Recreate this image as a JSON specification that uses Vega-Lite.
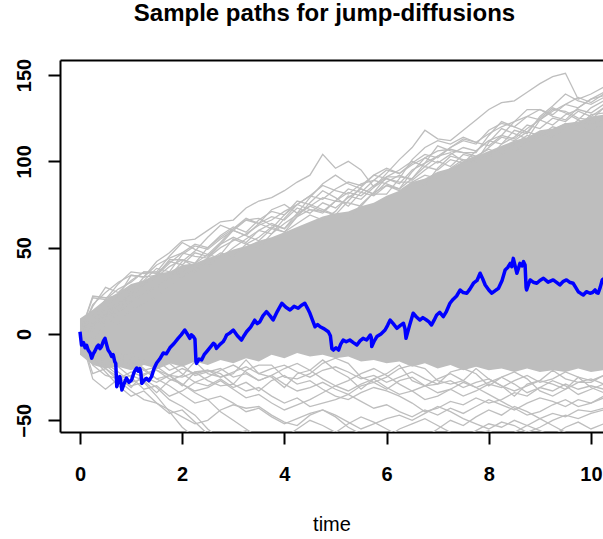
{
 "$schema": "https://vega.github.io/schema/vega-lite/v6.json",
 "width": 543,
 "height": 372,
 "autosize": {"type": "none"},
 "padding": {"left": 60, "top": 60, "right": 0, "bottom": 107},
 "background": "white",
 "config": {
  "view": {"stroke": null},
  "font": "Liberation Sans",
  "axis": {"domainColor": "black", "domainWidth": 2, "tickColor": "black", "tickWidth": 2, "tickSize": 12, "labelColor": "black", "labelFont": "Liberation Sans", "labelFontSize": 20, "labelFontWeight": "bold", "grid": false, "titleColor": "black", "titleFont": "Liberation Sans", "titleFontSize": 20, "titleFontWeight": "normal"}
 },
 "title": {"text": "Sample paths for jump-diffusions", "fontSize": 24, "fontWeight": "bold", "font": "Liberation Sans", "color": "black", "anchor": "middle", "frame": "group", "baseline": "alphabetic", "offset": 13, "dx": -7},
 "datasets": {
  "core": [
   {"t":0,"lo":-12,"hi":9},{"t":0.25,"lo":-18,"hi":14},{"t":0.5,"lo":-20,"hi":20},{"t":0.75,"lo":-19,"hi":24},{"t":1,"lo":-21,"hi":29},{"t":1.25,"lo":-18,"hi":31},{"t":1.5,"lo":-20,"hi":35},{"t":1.75,"lo":-17,"hi":36},{"t":2,"lo":-19,"hi":40},{"t":2.25,"lo":-16,"hi":41},{"t":2.5,"lo":-18,"hi":44},{"t":2.75,"lo":-15,"hi":46},{"t":3,"lo":-17,"hi":49},{"t":3.25,"lo":-14,"hi":51},{"t":3.5,"lo":-16,"hi":54},{"t":3.75,"lo":-12,"hi":56},{"t":4,"lo":-14,"hi":59},{"t":4.25,"lo":-11,"hi":62},{"t":4.5,"lo":-13,"hi":65},{"t":4.75,"lo":-12,"hi":68},{"t":5,"lo":-14,"hi":70},{"t":5.25,"lo":-13,"hi":71},{"t":5.5,"lo":-16,"hi":74},{"t":5.75,"lo":-15,"hi":76},{"t":6,"lo":-17,"hi":80},{"t":6.25,"lo":-16,"hi":83},{"t":6.5,"lo":-19,"hi":88},{"t":6.75,"lo":-17,"hi":90},{"t":7,"lo":-20,"hi":94},{"t":7.25,"lo":-18,"hi":96},{"t":7.5,"lo":-21,"hi":100},{"t":7.75,"lo":-19,"hi":103},{"t":8,"lo":-21,"hi":106},{"t":8.25,"lo":-20,"hi":109},{"t":8.5,"lo":-22,"hi":112},{"t":8.75,"lo":-20,"hi":114},{"t":9,"lo":-22,"hi":118},{"t":9.25,"lo":-21,"hi":119},{"t":9.5,"lo":-22,"hi":122},{"t":9.75,"lo":-20,"hi":123},{"t":10,"lo":-22,"hi":126},{"t":10.25,"lo":-21,"hi":127}
  ],
  "paths": [
   {"t":0,"a":0,"b":0,"c":0,"d":0,"e":0,"f":0,"g":0,"h":0,"i":0,"j":0,"k":0,"l":0,"m":0,"n":0,"o":0,"p":0,"q":0,"r":0,"s":0,"u":0,"v":0,"w":0,"x":0,"y":0,"z":0,"A":0},
   {"t":0.25,"a":6,"b":3,"c":10,"d":8,"e":5,"f":-4,"g":-12,"h":-8,"i":-15,"j":-6,"k":-9,"l":-18,"m":-5,"n":-3,"o":-14,"p":-10,"q":16,"r":22,"s":17,"u":21,"v":-23,"w":-26,"x":-7,"y":4,"z":-11,"A":2},
   {"t":0.5,"a":10,"b":9,"c":20,"d":15,"e":12,"f":6,"g":-18,"h":-14,"i":-20,"j":-12,"k":-17,"l":-24,"m":-10,"n":-8,"o":-22,"p":-7,"q":27,"r":21,"s":24,"u":20,"v":-20,"w":-32,"x":-13,"y":11,"z":-16,"A":7},
   {"t":0.75,"a":14,"b":6,"c":26,"d":22,"e":18,"f":12,"g":-24,"h":-19,"i":-27,"j":-10,"k":-22,"l":-26,"m":-16,"n":-13,"o":-30,"p":-12,"q":24,"r":22,"s":30,"u":29,"v":-25,"w":-26,"x":-18,"y":17,"z":-14,"A":13},
   {"t":1,"a":24,"b":14,"c":30,"d":27,"e":22,"f":19,"g":-30,"h":-25,"i":-33,"j":-16,"k":-28,"l":-22,"m":-14,"n":-11,"o":-36,"p":-18,"q":31,"r":34,"s":34,"u":36,"v":-31,"w":-24,"x":-15,"y":24,"z":-19,"A":19},
   {"t":1.25,"a":33,"b":18,"c":36,"d":31,"e":29,"f":24,"g":-28,"h":-32,"i":-38,"j":-21,"k":-26,"l":-25,"m":-20,"n":-17,"o":-33,"p":-15,"q":36,"r":33,"s":33,"u":35,"v":-23,"w":-27,"x":-21,"y":30,"z":-24,"A":23},
   {"t":1.5,"a":42,"b":22,"c":35,"d":38,"e":33,"f":28,"g":-36,"h":-30,"i":-40,"j":-19,"k":-31,"l":-28,"m":-26,"n":-15,"o":-40,"p":-21,"q":36,"r":34,"s":40,"u":36,"v":-21,"w":-34,"x":-26,"y":34,"z":-20,"A":27},
   {"t":1.75,"a":47,"b":28,"c":42,"d":36,"e":39,"f":33,"g":-45,"h":-36,"i":-44,"j":-24,"k":-38,"l":-24,"m":-30,"n":-21,"o":-46,"p":-26,"q":45,"r":43,"s":44,"u":33,"v":-24,"w":-27,"x":-24,"y":41,"z":-17,"A":32},
   {"t":2,"a":54,"b":33,"c":40,"d":46,"e":43,"f":38,"g":-54,"h":-33,"i":-48,"j":-25,"k":-42,"l":-20,"m":-35,"n":-18,"o":-44,"p":-29,"q":53,"r":43,"s":47,"u":42,"v":-30,"w":-24,"x":-29,"y":47,"z":-23,"A":36},
   {"t":2.25,"a":55,"b":38,"c":47,"d":51,"e":41,"f":36,"g":-60,"h":-28,"i":-52,"j":-22,"k":-47,"l":-23,"m":-40,"n":-24,"o":-51,"p":-34,"q":49,"r":39,"s":45,"u":48,"v":-22,"w":-16,"x":-33,"y":52,"z":-28,"A":41},
   {"t":2.5,"a":60,"b":44,"c":45,"d":49,"e":50,"f":42,"g":-57,"h":-30,"i":-50,"j":-27,"k":-55,"l":-21,"m":-38,"n":-22,"o":-58,"p":-38,"q":46,"r":39,"s":44,"u":56,"v":-21,"w":-23,"x":-31,"y":50,"z":-25,"A":46},
   {"t":2.75,"a":65,"b":50,"c":52,"d":55,"e":56,"f":47,"g":-64,"h":-26,"i":-44,"j":-30,"k":-61,"l":-25,"m":-45,"n":-20,"o":-64,"p":-36,"q":53,"r":46,"s":52,"u":63,"v":-23,"w":-25,"x":-27,"y":57,"z":-21,"A":44},
   {"t":3,"a":66,"b":54,"c":56,"d":60,"e":61,"f":45,"g":-70,"h":-31,"i":-41,"j":-29,"k":-58,"l":-22,"m":-50,"n":-25,"o":-62,"p":-40,"q":61,"r":55,"s":60,"u":60,"v":-29,"w":-23,"x":-32,"y":62,"z":-18,"A":50},
   {"t":3.25,"a":73,"b":58,"c":53,"d":57,"e":66,"f":52,"g":-66,"h":-28,"i":-43,"j":-33,"k":-56,"l":-19,"m":-55,"n":-23,"o":-68,"p":-45,"q":67,"r":52,"s":66,"u":57,"v":-21,"w":-15,"x":-37,"y":59,"z":-22,"A":55},
   {"t":3.5,"a":77,"b":63,"c":60,"d":64,"e":64,"f":56,"g":-72,"h":-33,"i":-42,"j":-31,"k":-62,"l":-23,"m":-60,"n":-27,"o":-73,"p":-43,"q":64,"r":50,"s":67,"u":54,"v":-18,"w":-23,"x":-35,"y":66,"z":-27,"A":60},
   {"t":3.75,"a":79,"b":66,"c":64,"d":68,"e":72,"f":62,"g":-78,"h":-27,"i":-47,"j":-36,"k":-66,"l":-20,"m":-64,"n":-24,"o":-70,"p":-48,"q":61,"r":58,"s":63,"u":61,"v":-18,"w":-25,"x":-40,"y":71,"z":-24,"A":58},
   {"t":4,"a":83,"b":71,"c":61,"d":66,"e":75,"f":59,"g":-75,"h":-24,"i":-51,"j":-40,"k":-60,"l":-18,"m":-70,"n":-29,"o":-76,"p":-52,"q":59,"r":67,"s":61,"u":69,"v":-25,"w":-31,"x":-44,"y":69,"z":-20,"A":64},
   {"t":4.25,"a":88,"b":75,"c":68,"d":73,"e":70,"f":64,"g":-82,"h":-29,"i":-53,"j":-37,"k":-55,"l":-22,"m":-74,"n":-33,"o":-80,"p":-49,"q":68,"r":75,"s":70,"u":77,"v":-26,"w":-23,"x":-41,"y":75,"z":-17,"A":69},
   {"t":4.5,"a":92,"b":80,"c":72,"d":70,"e":74,"f":69,"g":-88,"h":-27,"i":-47,"j":-42,"k":-50,"l":-25,"m":-71,"n":-31,"o":-77,"p":-46,"q":76,"r":72,"s":79,"u":75,"v":-23,"w":-21,"x":-38,"y":80,"z":-21,"A":74},
   {"t":4.75,"a":104,"b":86,"c":70,"d":76,"e":79,"f":66,"g":-85,"h":-32,"i":-44,"j":-40,"k":-53,"l":-21,"m":-66,"n":-28,"o":-83,"p":-44,"q":83,"r":71,"s":87,"u":72,"v":-17,"w":-15,"x":-34,"y":78,"z":-26,"A":71},
   {"t":5,"a":96,"b":83,"c":77,"d":73,"e":77,"f":71,"g":-90,"h":-36,"i":-48,"j":-38,"k":-57,"l":-19,"m":-63,"n":-32,"o":-87,"p":-47,"q":79,"r":69,"s":92,"u":69,"v":-14,"w":-21,"x":-30,"y":84,"z":-30,"A":77},
   {"t":5.25,"a":100,"b":81,"c":76,"d":79,"e":84,"f":80,"g":-94,"h":-38,"i":-54,"j":-35,"k":-52,"l":-22,"m":-60,"n":-35,"o":-84,"p":-51,"q":74,"r":77,"s":87,"u":66,"v":-17,"w":-25,"x":-33,"y":88,"z":-27,"A":82},
   {"t":5.5,"a":95,"b":87,"c":74,"d":84,"e":82,"f":78,"g":-91,"h":-34,"i":-58,"j":-30,"k":-48,"l":-26,"m":-65,"n":-39,"o":-90,"p":-55,"q":82,"r":85,"s":84,"u":75,"v":-25,"w":-32,"x":-29,"y":86,"z":-23,"A":80},
   {"t":5.75,"a":85,"b":89,"c":82,"d":81,"e":80,"f":85,"g":-97,"h":-31,"i":-62,"j":-28,"k":-51,"l":-24,"m":-69,"n":-43,"o":-88,"p":-52,"q":89,"r":92,"s":81,"u":82,"v":-28,"w":-26,"x":-26,"y":92,"z":-20,"A":86},
   {"t":6,"a":93,"b":95,"c":86,"d":88,"e":86,"f":90,"g":-100,"h":-33,"i":-60,"j":-32,"k":-55,"l":-28,"m":-72,"n":-41,"o":-93,"p":-49,"q":87,"r":90,"s":81,"u":91,"v":-25,"w":-23,"x":-31,"y":96,"z":-24,"A":91},
   {"t":6.25,"a":101,"b":93,"c":84,"d":92,"e":83,"f":87,"g":-96,"h":-36,"i":-55,"j":-27,"k":-59,"l":-25,"m":-68,"n":-45,"o":-90,"p":-47,"q":84,"r":88,"s":90,"u":91,"v":-20,"w":-18,"x":-35,"y":93,"z":-29,"A":95},
   {"t":6.5,"a":108,"b":99,"c":90,"d":89,"e":88,"f":95,"g":-102,"h":-40,"i":-52,"j":-25,"k":-63,"l":-22,"m":-64,"n":-48,"o":-95,"p":-50,"q":94,"r":88,"s":101,"u":90,"v":-18,"w":-27,"x":-33,"y":98,"z":-33,"A":100},
   {"t":6.75,"a":118,"b":104,"c":97,"d":95,"e":92,"f":99,"g":-105,"h":-45,"i":-49,"j":-30,"k":-60,"l":-26,"m":-60,"n":-44,"o":-92,"p":-46,"q":102,"r":86,"s":108,"u":99,"v":-20,"w":-30,"x":-38,"y":102,"z":-30,"A":97},
   {"t":7,"a":113,"b":102,"c":95,"d":100,"e":90,"f":103,"g":-101,"h":-43,"i":-53,"j":-34,"k":-65,"l":-29,"m":-55,"n":-47,"o":-97,"p":-42,"q":106,"r":96,"s":112,"u":109,"v":-27,"w":-29,"x":-36,"y":99,"z":-26,"A":103},
   {"t":7.25,"a":112,"b":108,"c":101,"d":97,"e":96,"f":105,"g":-108,"h":-39,"i":-57,"j":-32,"k":-68,"l":-27,"m":-50,"n":-43,"o":-99,"p":-45,"q":107,"r":103,"s":110,"u":106,"v":-29,"w":-22,"x":-32,"y":104,"z":-23,"A":108},
   {"t":7.5,"a":118,"b":112,"c":99,"d":104,"e":101,"f":100,"g":-104,"h":-41,"i":-60,"j":-36,"k":-62,"l":-31,"m":-53,"n":-46,"o":-96,"p":-49,"q":105,"r":101,"s":114,"u":105,"v":-27,"w":-20,"x":-28,"y":108,"z":-27,"A":113},
   {"t":7.75,"a":124,"b":110,"c":106,"d":102,"e":99,"f":103,"g":-110,"h":-37,"i":-56,"j":-33,"k":-58,"l":-28,"m":-48,"n":-42,"o":-101,"p":-52,"q":105,"r":100,"s":111,"u":103,"v":-20,"w":-23,"x":-31,"y":106,"z":-31,"A":111},
   {"t":8,"a":130,"b":118,"c":112,"d":108,"e":104,"f":107,"g":-113,"h":-40,"i":-52,"j":-29,"k":-56,"l":-26,"m":-44,"n":-38,"o":-98,"p":-55,"q":115,"r":111,"s":109,"u":102,"v":-26,"w":-30,"x":-35,"y":112,"z":-28,"A":116},
   {"t":8.25,"a":134,"b":122,"c":110,"d":114,"e":108,"f":104,"g":-109,"h":-38,"i":-54,"j":-31,"k":-60,"l":-30,"m":-47,"n":-41,"o":-103,"p":-51,"q":123,"r":119,"s":115,"u":110,"v":-30,"w":-25,"x":-39,"y":115,"z":-25,"A":120},
   {"t":8.5,"a":135,"b":120,"c":114,"d":112,"e":106,"f":110,"g":-115,"h":-34,"i":-50,"j":-27,"k":-57,"l":-33,"m":-42,"n":-44,"o":-100,"p":-53,"q":120,"r":116,"s":123,"u":118,"v":-36,"w":-22,"x":-43,"y":113,"z":-29,"A":123},
   {"t":8.75,"a":140,"b":126,"c":121,"d":117,"e":111,"f":115,"g":-112,"h":-36,"i":-53,"j":-24,"k":-53,"l":-30,"m":-45,"n":-40,"o":-105,"p":-57,"q":117,"r":113,"s":130,"u":116,"v":-29,"w":-26,"x":-47,"y":119,"z":-34,"A":126},
   {"t":9,"a":145,"b":130,"c":119,"d":115,"e":116,"f":113,"g":-118,"h":-31,"i":-49,"j":-28,"k":-56,"l":-27,"m":-49,"n":-37,"o":-102,"p":-54,"q":125,"r":124,"s":130,"u":126,"v":-27,"w":-33,"x":-45,"y":124,"z":-31,"A":124},
   {"t":9.25,"a":149,"b":127,"c":125,"d":120,"e":114,"f":118,"g":-121,"h":-33,"i":-46,"j":-26,"k":-59,"l":-29,"m":-53,"n":-39,"o":-107,"p":-50,"q":131,"r":130,"s":126,"u":132,"v":-21,"w":-36,"x":-41,"y":121,"z":-27,"A":129},
   {"t":9.5,"a":151,"b":133,"c":123,"d":118,"e":119,"f":122,"g":-117,"h":-29,"i":-48,"j":-22,"k":-54,"l":-32,"m":-57,"n":-42,"o":-104,"p":-47,"q":128,"r":129,"s":124,"u":139,"v":-26,"w":-32,"x":-38,"y":127,"z":-30,"A":133},
   {"t":9.75,"a":136,"b":131,"c":129,"d":124,"e":122,"f":120,"g":-123,"h":-32,"i":-44,"j":-25,"k":-51,"l":-28,"m":-61,"n":-38,"o":-109,"p":-49,"q":124,"r":125,"s":131,"u":135,"v":-28,"w":-25,"x":-42,"y":130,"z":-35,"A":137},
   {"t":10,"a":139,"b":136,"c":126,"d":121,"e":118,"f":127,"g":-120,"h":-30,"i":-45,"j":-27,"k":-55,"l":-26,"m":-59,"n":-40,"o":-106,"p":-46,"q":131,"r":124,"s":136,"u":133,"v":-28,"w":-31,"x":-40,"y":128,"z":-32,"A":134},
   {"t":10.25,"a":143,"b":138,"c":131,"d":125,"e":122,"f":128,"g":-125,"h":-32,"i":-43,"j":-24,"k":-52,"l":-29,"m":-63,"n":-37,"o":-110,"p":-44,"q":135,"r":131,"s":140,"u":137,"v":-24,"w":-34,"x":-36,"y":133,"z":-29,"A":139}
  ],
  "blue": [
   {"t":0,"v":1.3},{"t":0.02,"v":-4},{"t":0.03,"v":-6.4},{"t":0.07,"v":-5},{"t":0.1,"v":-8},{"t":0.13,"v":-6.5},{"t":0.16,"v":-9.3},{"t":0.2,"v":-11},{"t":0.23,"v":-14},{"t":0.26,"v":-11.5},{"t":0.29,"v":-10},{"t":0.33,"v":-7.5},{"t":0.36,"v":-6.4},{"t":0.39,"v":-8.5},{"t":0.42,"v":-7.3},{"t":0.46,"v":-4},{"t":0.49,"v":-2.5},{"t":0.52,"v":-6},{"t":0.55,"v":-9.3},{"t":0.59,"v":-11},{"t":0.62,"v":-13},{"t":0.65,"v":-12},{"t":0.68,"v":-16},{"t":0.7,"v":-17},{"t":0.72,"v":-30.5},{"t":0.75,"v":-27},{"t":0.78,"v":-24.7},{"t":0.8,"v":-28},{"t":0.82,"v":-32.4},{"t":0.86,"v":-29},{"t":0.91,"v":-25.5},{"t":0.96,"v":-28},{"t":1.01,"v":-26.6},{"t":1.06,"v":-22},{"t":1.11,"v":-19.7},{"t":1.14,"v":-21.5},{"t":1.17,"v":-20},{"t":1.19,"v":-22},{"t":1.21,"v":-28.6},{"t":1.25,"v":-27},{"t":1.3,"v":-25.7},{"t":1.35,"v":-27},{"t":1.4,"v":-24.7},{"t":1.45,"v":-20},{"t":1.5,"v":-16.8},{"t":1.56,"v":-14.5},{"t":1.63,"v":-11},{"t":1.69,"v":-11.5},{"t":1.76,"v":-8},{"t":1.84,"v":-5.5},{"t":1.92,"v":-2.5},{"t":1.98,"v":-0.5},{"t":2.05,"v":2.3},{"t":2.1,"v":0},{"t":2.15,"v":-2.5},{"t":2.18,"v":-0.5},{"t":2.22,"v":-1.5},{"t":2.25,"v":-3},{"t":2.27,"v":-16},{"t":2.28,"v":-17},{"t":2.33,"v":-14.5},{"t":2.38,"v":-15},{"t":2.43,"v":-12},{"t":2.48,"v":-10.2},{"t":2.54,"v":-8},{"t":2.61,"v":-5.4},{"t":2.64,"v":-6},{"t":2.67,"v":-8.3},{"t":2.74,"v":-6},{"t":2.8,"v":-4.5},{"t":2.84,"v":-2.5},{"t":2.87,"v":-0.6},{"t":2.93,"v":0.5},{"t":3,"v":2.3},{"t":3.08,"v":-1},{"t":3.16,"v":-3.5},{"t":3.21,"v":-1},{"t":3.26,"v":1.3},{"t":3.34,"v":4},{"t":3.42,"v":8},{"t":3.47,"v":6},{"t":3.52,"v":7.1},{"t":3.58,"v":10.5},{"t":3.65,"v":12.9},{"t":3.72,"v":10.5},{"t":3.78,"v":8.1},{"t":3.86,"v":13},{"t":3.95,"v":17.8},{"t":4.03,"v":15.5},{"t":4.11,"v":13.9},{"t":4.19,"v":16},{"t":4.27,"v":14.9},{"t":4.33,"v":16.5},{"t":4.4,"v":17.8},{"t":4.45,"v":15},{"t":4.5,"v":12},{"t":4.55,"v":8},{"t":4.6,"v":4.2},{"t":4.65,"v":5.5},{"t":4.7,"v":4.2},{"t":4.78,"v":3},{"t":4.86,"v":1.3},{"t":4.9,"v":-1},{"t":4.93,"v":-8.5},{"t":4.96,"v":-9.3},{"t":5.01,"v":-8},{"t":5.06,"v":-9.3},{"t":5.1,"v":-6},{"t":5.15,"v":-3.5},{"t":5.21,"v":-4.5},{"t":5.28,"v":-3.5},{"t":5.35,"v":-5},{"t":5.42,"v":-6.4},{"t":5.48,"v":-4},{"t":5.54,"v":-2.5},{"t":5.61,"v":-3.5},{"t":5.68,"v":-0.6},{"t":5.7,"v":-2},{"t":5.71,"v":-7.3},{"t":5.76,"v":-4},{"t":5.81,"v":-1.5},{"t":5.89,"v":0},{"t":5.97,"v":2.3},{"t":6.02,"v":5},{"t":6.07,"v":8.1},{"t":6.13,"v":6},{"t":6.2,"v":3.3},{"t":6.27,"v":5},{"t":6.33,"v":6.2},{"t":6.36,"v":3},{"t":6.38,"v":-2.5},{"t":6.45,"v":5},{"t":6.52,"v":12},{"t":6.58,"v":10},{"t":6.65,"v":8.1},{"t":6.71,"v":9.5},{"t":6.78,"v":8.1},{"t":6.83,"v":7},{"t":6.88,"v":5.2},{"t":6.93,"v":8},{"t":6.98,"v":11},{"t":7.04,"v":12.5},{"t":7.11,"v":10},{"t":7.17,"v":13},{"t":7.24,"v":17.8},{"t":7.3,"v":20},{"t":7.37,"v":22},{"t":7.44,"v":25.5},{"t":7.5,"v":24},{"t":7.57,"v":23.6},{"t":7.63,"v":26},{"t":7.7,"v":29.4},{"t":7.77,"v":31},{"t":7.83,"v":35.2},{"t":7.88,"v":32},{"t":7.93,"v":28.4},{"t":8,"v":25.5},{"t":8.06,"v":23.6},{"t":8.12,"v":25},{"t":8.19,"v":26.5},{"t":8.26,"v":31},{"t":8.32,"v":37.1},{"t":8.37,"v":38.5},{"t":8.42,"v":40.9},{"t":8.45,"v":39},{"t":8.48,"v":43.8},{"t":8.51,"v":40},{"t":8.55,"v":35.2},{"t":8.58,"v":38},{"t":8.61,"v":40.9},{"t":8.65,"v":39.5},{"t":8.68,"v":41.9},{"t":8.71,"v":40},{"t":8.73,"v":27},{"t":8.74,"v":25.5},{"t":8.78,"v":29},{"t":8.81,"v":31.3},{"t":8.87,"v":30},{"t":8.94,"v":29.4},{"t":9,"v":31},{"t":9.07,"v":32.3},{"t":9.16,"v":30},{"t":9.26,"v":31.3},{"t":9.32,"v":30},{"t":9.39,"v":28.4},{"t":9.46,"v":30.5},{"t":9.52,"v":31.3},{"t":9.58,"v":30},{"t":9.65,"v":29.4},{"t":9.7,"v":27},{"t":9.75,"v":24.5},{"t":9.8,"v":23.5},{"t":9.85,"v":22.6},{"t":9.91,"v":24.5},{"t":9.98,"v":23.6},{"t":10.03,"v":24},{"t":10.08,"v":25.5},{"t":10.11,"v":24},{"t":10.14,"v":23.6},{"t":10.18,"v":27},{"t":10.22,"v":31.3},{"t":10.25,"v":32}
  ]
 },
 "resolve": {"axis": {"x": "independent"}},
 "layer": [
  {
   "data": {"name": "core"},
   "mark": {"type": "area", "color": "#bebebe", "clip": true},
   "encoding": {
    "x": {"field": "t", "type": "quantitative", "scale": {"domain": [-0.391, 10.235], "nice": false, "zero": false},
     "axis": {"orient": "bottom", "values": [0, 2, 4, 6, 8, 10], "title": "time", "labelPadding": 36, "labelBaseline": "alphabetic", "labelFlush": false, "labelOverlap": false, "titleBaseline": "alphabetic", "titleY": 98}},
    "y": {"field": "lo", "type": "quantitative", "scale": {"domain": [-56.76, 158.69], "nice": false, "zero": false},
     "axis": {"values": [-50, 0, 50, 100, 150], "title": null, "labelAngle": -90, "labelAlign": "center", "labelBaseline": "alphabetic", "labelPadding": 18, "labelFlush": false, "labelOverlap": false}},
    "y2": {"field": "hi"}
   }
  },
  {
   "data": {"name": "paths"},
   "transform": [{"fold": ["a","b","c","d","e","f","g","h","i","j","k","l","m","n","o","p","q","r","s","u","v","w","x","y","z","A"], "as": ["path", "val"]}],
   "mark": {"type": "line", "stroke": "#bebebe", "strokeWidth": 1.3, "clip": true},
   "encoding": {
    "x": {"field": "t", "type": "quantitative", "axis": {"orient": "top", "labels": false, "ticks": false, "domain": true, "title": null, "grid": false}},
    "y": {"field": "val", "type": "quantitative"},
    "detail": {"field": "path", "type": "nominal"}
   }
  },
  {
   "data": {"name": "blue"},
   "mark": {"type": "line", "stroke": "#0000ff", "strokeWidth": 3.5, "strokeJoin": "round", "clip": true},
   "encoding": {
    "x": {"field": "t", "type": "quantitative", "axis": null},
    "y": {"field": "v", "type": "quantitative"}
   }
  }
 ]
}
